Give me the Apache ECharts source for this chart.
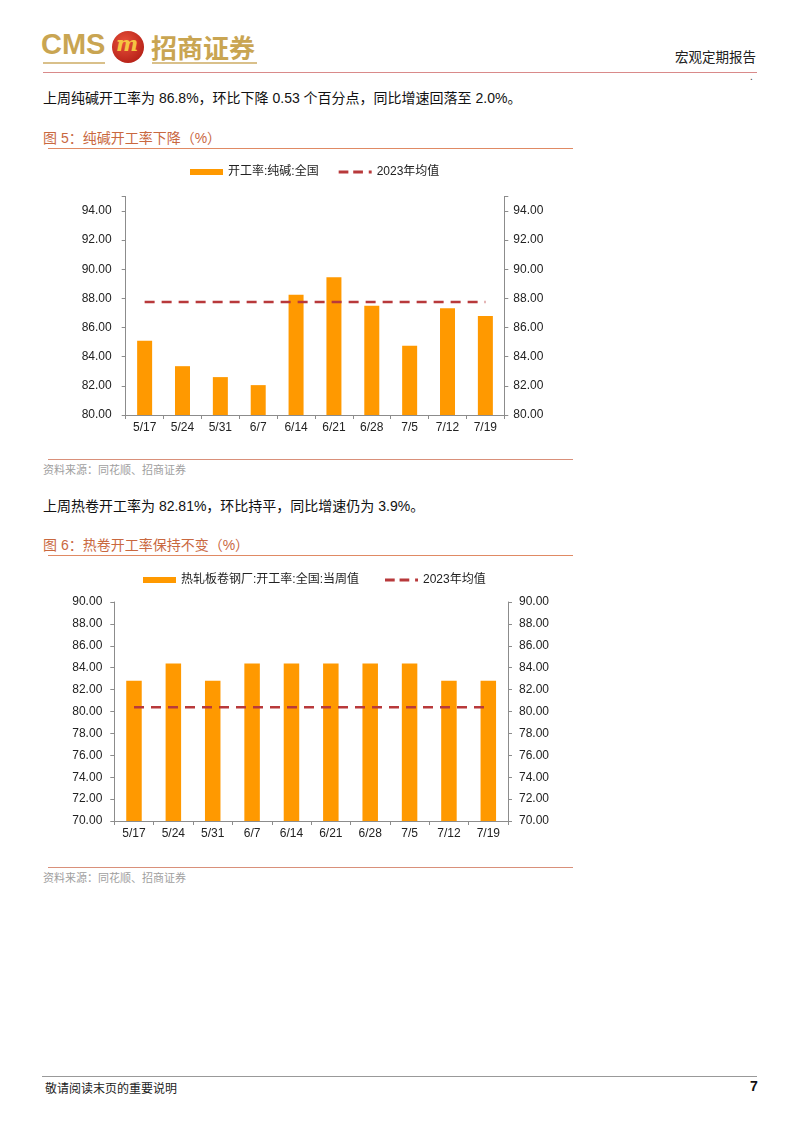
<!DOCTYPE html>
<html>
<head>
<meta charset="utf-8">
<script src="https://cdn.jsdelivr.net/npm/echarts@6/dist/echarts.min.js"></script>
<style>
  html, body { margin:0; padding:0; background:#fff; }
  body { width:802px; height:1133px; position:relative; overflow:hidden;
         font-family:"Liberation Sans","Noto Sans CJK SC",sans-serif; }
  .abs { position:absolute; white-space:nowrap; }
  .body { font-size:14px; color:#111; }
  .title { font-size:14px; color:#c9683f; }
  .src { font-size:11px; color:#a0a0a0; }
  .hl { position:absolute; height:0; }
  #chart { position:absolute; left:0; top:0; width:802px; height:1133px; }
</style>
</head>
<body>
<!-- header -->
<div class="abs" style="left:41px;top:28px;font-size:29px;font-weight:bold;color:#c9a552;font-family:'Liberation Sans',sans-serif;">CMS</div>
<div class="abs" style="left:112px;top:31px;width:32px;height:32px;border-radius:50%;background:radial-gradient(circle at 40% 35%, #e8503a, #a8140e);"></div>
<div class="abs" style="left:116px;top:31px;font-size:21px;font-weight:bold;font-style:italic;color:#f5c542;font-family:'DejaVu Serif',serif;">m</div>
<div class="abs" style="left:151px;top:28px;font-size:26px;font-weight:bold;color:#c9a552;font-family:'Noto Sans CJK SC';">招商证券</div>
<div class="hl" style="left:43px;top:62px;width:62px;border-top:2px solid #d9c08a;"></div>
<div class="hl" style="left:152px;top:62px;width:105px;border-top:2px solid #d9c08a;"></div>
<div class="abs" style="left:675px;top:46px;font-size:13.5px;color:#222;font-family:'Noto Sans CJK SC';">宏观定期报告</div>
<div class="hl" style="left:43px;top:72px;width:714px;border-top:1px solid #d98a8a;"></div>
<div class="abs" style="left:750px;top:71px;font-size:10px;color:#333;">.</div>

<!-- section 1 -->
<div class="abs body" style="left:43px;top:87px;">上周纯碱开工率为 86.8%，环比下降 0.53 个百分点，同比增速回落至 2.0%。</div>
<div class="abs title" style="left:43px;top:127px;">图 5：纯碱开工率下降（%）</div>
<div class="hl" style="left:48px;top:148px;width:525px;border-top:1.5px solid #e08a64;"></div>
<div class="hl" style="left:48px;top:459px;width:525px;border-top:1.5px solid #d9907a;"></div>
<div class="abs src" style="left:43px;top:461px;">资料来源：同花顺、招商证券</div>

<!-- section 2 -->
<div class="abs body" style="left:43px;top:495px;">上周热卷开工率为 82.81%，环比持平，同比增速仍为 3.9%。</div>
<div class="abs title" style="left:43px;top:534px;">图 6：热卷开工率保持不变（%）</div>
<div class="hl" style="left:48px;top:555px;width:525px;border-top:1.5px solid #e08a64;"></div>
<div class="hl" style="left:48px;top:867px;width:525px;border-top:1.5px solid #d9907a;"></div>
<div class="abs src" style="left:43px;top:869px;">资料来源：同花顺、招商证券</div>

<!-- footer -->
<div class="hl" style="left:42px;top:1076px;width:715px;border-top:1px solid #999;"></div>
<div class="abs" style="left:45px;top:1079px;font-size:12px;color:#222;font-family:'Noto Sans CJK SC';">敬请阅读末页的重要说明</div>
<div class="abs" style="left:750px;top:1078px;font-size:14px;font-weight:bold;color:#111;">7</div>

<div id="chart"></div>
<script>
const categories = ['5/17','5/24','5/31','6/7','6/14','6/21','6/28','7/5','7/12','7/19'];
const sodaAshRate = [85.1, 83.35, 82.6, 82.05, 88.25, 89.45, 87.5, 84.75, 87.33, 86.8];
const sodaAshAvg2023 = [87.75, 87.75, 87.75, 87.75, 87.75, 87.75, 87.75, 87.75, 87.75, 87.75];
const hotCoilRate = [82.81, 84.38, 82.81, 84.38, 84.38, 84.38, 84.38, 84.38, 82.81, 82.81];
const hotCoilAvg2023 = [80.38, 80.38, 80.38, 80.38, 80.38, 80.38, 80.38, 80.38, 80.38, 80.38];
const sodaNames = ['开工率:纯碱:全国', '2023年均值'];
const coilNames = ['热轧板卷钢厂:开工率:全国:当周值', '2023年均值'];

const FONT = '"Liberation Sans","Noto Sans CJK SC",sans-serif';
const axisColor = '#8c8c8c';
const barColor = '#ff9900';
const lineColor = '#b8393b';
const dashIcon = 'path://M0,0h10v3h-10z M15,0h10v3h-10z M31,0h3v3h-3z';

function yAxis(gi, min, max, pos, margin) {
  return {
    type: 'value', gridIndex: gi, position: pos, min: min, max: max, interval: 2,
    axisLine: { show: true, lineStyle: { color: axisColor, width: 1 } },
    axisTick: { show: true, length: 4, lineStyle: { color: axisColor } },
    splitLine: { show: false },
    axisLabel: {
      color: '#222', fontSize: 12, fontFamily: FONT, margin: margin,
      formatter: v => (Math.round(v) % 2 === 0 ? v.toFixed(2) : '')
    }
  };
}
function xAxis(gi) {
  return {
    type: 'category', gridIndex: gi, data: categories, boundaryGap: true,
    axisLine: { lineStyle: { color: axisColor } },
    axisTick: { show: true, length: 4, alignWithLabel: false, lineStyle: { color: axisColor } },
    axisLabel: { color: '#222', fontSize: 12, fontFamily: FONT, margin: 7, interval: 0 }
  };
}

const chart = echarts.init(document.getElementById('chart'));
chart.setOption({
  animation: false,
  backgroundColor: 'transparent',
  textStyle: { fontFamily: FONT },
  legend: [
    { left: 190, top: 166, padding: 0, itemGap: 20, itemWidth: 33, itemHeight: 6,
      textStyle: { fontSize: 12, color: '#222', fontFamily: FONT },
      data: [ { name: sodaNames[0], icon: 'rect' },
              { name: sodaNames[1], icon: dashIcon, itemWidth: 34, itemHeight: 3 } ] },
    { left: 143, top: 574, padding: 0, itemGap: 26, itemWidth: 33, itemHeight: 6,
      textStyle: { fontSize: 12, color: '#222', fontFamily: FONT },
      data: [ { name: coilNames[0], icon: 'rect' },
              { name: coilNames[1] + ' ', icon: dashIcon } ] }
  ],
  grid: [
    { left: 125.7, width: 378.6, top: 196.4, height: 218.6 },
    { left: 114.3, width: 393.7, top: 602, height: 219 }
  ],
  xAxis: [ xAxis(0), xAxis(1) ],
  yAxis: [
    yAxis(0, 80, 95, 'left', 14), yAxis(0, 80, 95, 'right', 9),
    yAxis(1, 70, 90, 'left', 12), yAxis(1, 70, 90, 'right', 11)
  ],
  series: [
    { name: sodaNames[0], type: 'bar', xAxisIndex: 0, yAxisIndex: 0, data: sodaAshRate,
      barWidth: 15, itemStyle: { color: barColor } },
    { name: sodaNames[1], type: 'line', xAxisIndex: 0, yAxisIndex: 0, data: sodaAshAvg2023,
      symbol: 'none', lineStyle: { color: lineColor, width: 2.5, type: [10, 7] }, itemStyle: { color: lineColor } },
    { name: coilNames[0], type: 'bar', xAxisIndex: 1, yAxisIndex: 2, data: hotCoilRate,
      barWidth: 15.5, itemStyle: { color: barColor } },
    { name: coilNames[1] + ' ', type: 'line', xAxisIndex: 1, yAxisIndex: 2, data: hotCoilAvg2023,
      symbol: 'none', lineStyle: { color: lineColor, width: 2.5, type: [10, 7] }, itemStyle: { color: lineColor } }
  ]
});
</script>
</body>
</html>
